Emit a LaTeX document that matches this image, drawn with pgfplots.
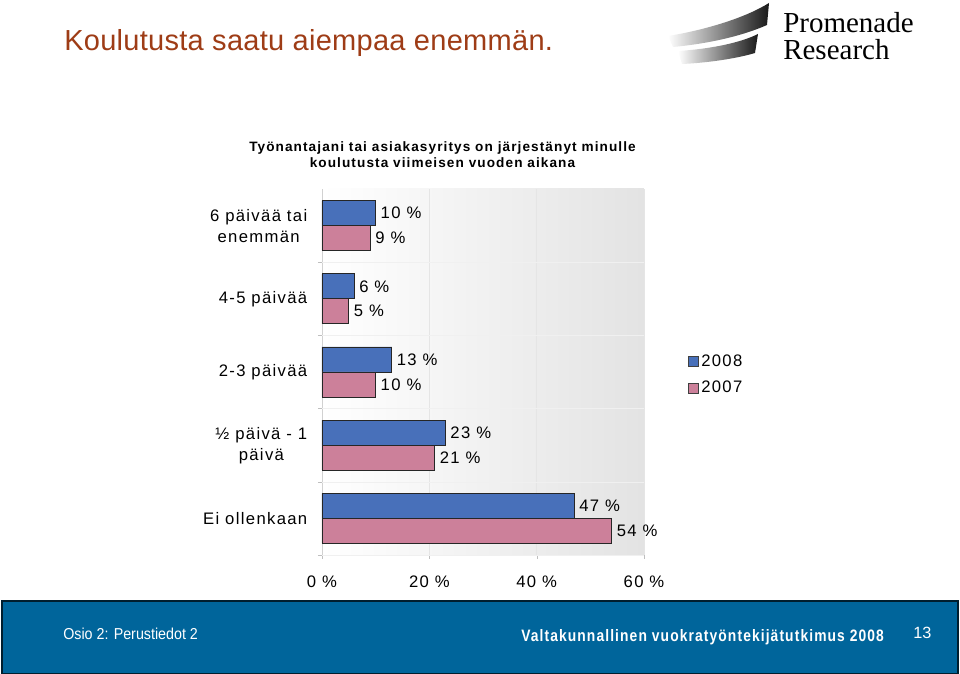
\documentclass[border=0pt]{standalone}
\usepackage{fontspec}
\setmainfont{Liberation Sans}
\newfontfamily\spcd{Liberation Sans}[LetterSpace=8]
\newfontfamily\headfont{Liberation Sans}[LetterSpace=1]
\newfontfamily\logofont{Liberation Serif}
\usepackage{graphicx}
\usepackage{pgfplots}
\pgfplotsset{compat=1.18}
\definecolor{bar08}{RGB}{72,112,186}
\definecolor{bar07}{RGB}{204,128,154}
\definecolor{titlebrown}{RGB}{158,60,22}
\definecolor{footblue}{RGB}{0,101,155}

\begin{document}
\begin{tikzpicture}
\begin{axis}[
    scale only axis, width=241.5pt, height=274.5pt,
    xbar, bar width=18.75pt,
    xmin=0, xmax=60, ymin=-0.5, ymax=4.5,
    axis background/.style={left color=white, right color=black!11},
    axis x line*=bottom, axis y line*=left,
    axis line style={black!18},
    /pgf/number format/assume math mode=true,
    xtick={0,20,40,60}, xticklabels={0~\%,20~\%,40~\%,60~\%},
    xmajorgrids, major grid style={black!10},
    tick style={black!25}, tick align=outside, major tick length=3pt,
    xticklabel style={font=\spcd\fontsize{12.5}{14}\selectfont, yshift=-9pt},
    ytick={0,1,2,3,4},
    yticklabels={Ei ollenkaan, ½ päivä - 1\\päivä, 2-3 päivää, 4-5 päivää, 6 päivää tai\\enemmän},
    yticklabel style={align=center, font=\spcd\fontsize{12.5}{15.75}\selectfont, xshift=-4.5pt},
    ytick style={draw=none},
    extra y ticks={-0.5,0.5,1.5,2.5,3.5}, extra y tick labels={},
    extra y tick style={ytick style={draw=black!25}, ymajorgrids, major grid style={black!6}},
    point meta=x,
    nodes near coords={\pgfmathprintnumber{\pgfplotspointmeta}~\%},
    every node near coord/.append style={font=\spcd\fontsize{12.5}{14}\selectfont, inner sep=3.5pt, black},
    legend style={at={(1.137,0.492)}, anchor=west, draw=none, fill=none,
        font=\spcd\fontsize{12.5}{14}\selectfont, row sep=6pt, inner sep=0pt,
        nodes={inner sep=1.8pt}},
    legend cell align=left,
    legend image code/.code={\draw[#1, draw=black!75, line width=0.4pt] (0pt,-3.75pt) rectangle (7.5pt,3.75pt);},
]
\addplot[fill=bar08, draw=black!85, line width=0.6pt, bar shift=9.375pt]
    coordinates {(47,0) (23,1) (13,2) (6,3) (10,4)};
\addlegendentry{2008}
\addplot[fill=bar07, draw=black!85, line width=0.6pt, bar shift=-9.375pt]
    coordinates {(54,0) (21,1) (10,2) (5,3) (9,4)};
\addlegendentry{2007}
\end{axis}

\begin{scope}[x=0.75pt, y=-0.75pt, shift={(-241.5pt,416.25pt)}]
% heading
\node[anchor=base west, inner sep=0pt, text=titlebrown, font=\headfont\fontsize{21.75}{24}\selectfont]
    at (64,51) {Koulutusta saatu aiempaa enemmän.};
\node[align=center, inner sep=0pt, font=\spcd\bfseries\fontsize{10.2}{12}\selectfont]
    at (442.5,155) {Työnantajani tai asiakasyritys on järjestänyt minulle\\koulutusta viimeisen vuoden aikana};
% logo
\shade[left color=white, right color=black!90]
    (668,36) .. controls (705,30) and (745,18) .. (769,3) -- (767,25)
    .. controls (740,37) and (705,44) .. (673,47) -- cycle;
\shade[left color=white, right color=black!90]
    (678,51) .. controls (710,49) and (740,43) .. (758,34) -- (755,53)
    .. controls (735,59) and (705,63) .. (682,64) -- cycle;
\node[anchor=base west, inner sep=0pt, font=\logofont\fontsize{21.75}{24}\selectfont] at (783,33) {Promenade};
\node[anchor=base west, inner sep=0pt, font=\logofont\fontsize{21.75}{24}\selectfont] at (783,60) {Research};
% footer
\fill[footblue] (2,601) rectangle (958,674);
\draw[black!70!footblue, line width=0.8pt] (2,601) rectangle (958,673.5);
\node[anchor=west, inner sep=0pt, text=white] at (63,634)
    {\resizebox{101pt}{8.6pt}{Osio 2: Perustiedot 2}};
\node[anchor=west, inner sep=0pt, text=white] at (521,637)
    {\resizebox{272pt}{9pt}{\spcd\bfseries Valtakunnallinen vuokratyöntekijätutkimus 2008}};
\node[anchor=west, inner sep=0pt, text=white, font=\fontsize{12.2}{14}\selectfont] at (913,633) {13};
\pgfresetboundingbox
\path (0,0) rectangle (960,674);
\end{scope}
\end{tikzpicture}
\end{document}
